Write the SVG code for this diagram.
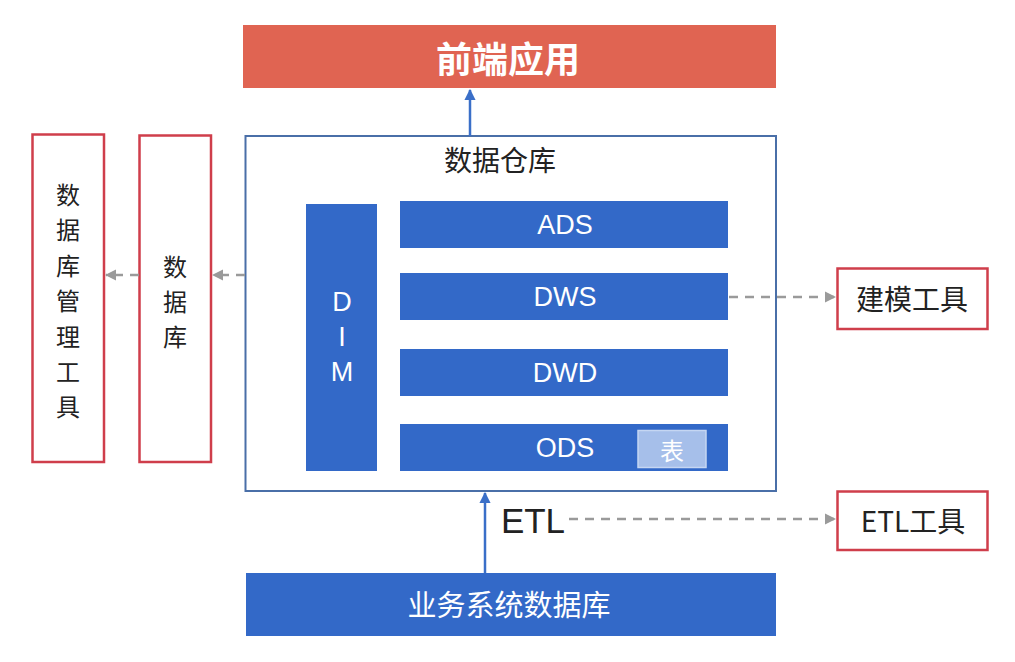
<svg xmlns="http://www.w3.org/2000/svg" width="1015" height="662" viewBox="0 0 1015 662">
<defs>
<style>
.cjk{font-family:"Noto Sans CJK SC","Liberation Sans",sans-serif;}
.lat{font-family:"Liberation Sans","Noto Sans CJK SC",sans-serif;}
.blue{fill:#3369c8;}
.wt{fill:#ffffff;text-anchor:middle;dominant-baseline:central;}
.bk{fill:#222222;text-anchor:middle;dominant-baseline:central;}
.red{fill:#ffffff;stroke:#cf3e4b;stroke-width:2.5;}
.dash{stroke:#9a9a9a;stroke-width:2.5;stroke-dasharray:9 7;fill:none;}
.solid{stroke:#3a6fc8;stroke-width:2.5;fill:none;}
.vt{font-size:24px;}
</style>
<marker id="ag" viewBox="0 0 10 10" refX="9" refY="5" markerWidth="4.5" markerHeight="4.5" orient="auto"><path d="M0,0 L10,5 L0,10 z" fill="#9a9a9a"/></marker>
<marker id="ab" viewBox="0 0 10 10" refX="9" refY="5" markerWidth="4.5" markerHeight="4.5" orient="auto"><path d="M0,0 L10,5 L0,10 z" fill="#3a6fc8"/></marker>
</defs>
<rect width="1015" height="662" fill="#ffffff"/>

<g id="frontend">
<rect x="243" y="25" width="533" height="63" fill="#e06452"/>
<text x="508" y="57" class="cjk wt" font-size="36" font-weight="bold">前端应用</text>
</g>

<g id="warehouse">
<rect x="245.5" y="136" width="530.5" height="355" fill="#ffffff" stroke="#4a6fa8" stroke-width="2"/>
<text x="500" y="159" class="cjk bk" font-size="28">数据仓库</text>
</g>

<g id="dim">
<rect x="306" y="204" width="71" height="267" class="blue"/>
<text x="342" y="302" class="lat wt" font-size="27">D</text>
<text x="342" y="337" class="lat wt" font-size="27">I</text>
<text x="342" y="372" class="lat wt" font-size="27">M</text>
</g>
<g id="ads">
<rect x="400" y="201" width="328" height="47" class="blue"/>
<text x="565" y="225" class="lat wt" font-size="27">ADS</text>
</g>
<g id="dws">
<rect x="400" y="273" width="328" height="47" class="blue"/>
<text x="565" y="297" class="lat wt" font-size="27">DWS</text>
</g>
<g id="dwd">
<rect x="400" y="349" width="328" height="47" class="blue"/>
<text x="565" y="373" class="lat wt" font-size="27">DWD</text>
</g>
<g id="ods">
<rect x="400" y="424" width="328" height="47" class="blue"/>
<text x="565" y="448" class="lat wt" font-size="27">ODS</text>
</g>
<g id="table">
<rect x="638" y="430.5" width="68" height="37" fill="#a6bfea" stroke="#c5d6f2" stroke-width="1.5"/>
<text x="672" y="449" class="cjk wt" font-size="24">表</text>
</g>

<g id="dbtool">
<rect x="32.5" y="134.5" width="71.5" height="327.5" class="red"/>
<text x="68" y="193" class="cjk bk vt">数</text>
<text x="68" y="228" class="cjk bk vt">据</text>
<text x="68" y="264" class="cjk bk vt">库</text>
<text x="68" y="299" class="cjk bk vt">管</text>
<text x="68" y="335" class="cjk bk vt">理</text>
<text x="68" y="370" class="cjk bk vt">工</text>
<text x="68" y="405" class="cjk bk vt">具</text>
</g>

<g id="db">
<rect x="139.5" y="135.5" width="71.5" height="326.5" class="red"/>
<text x="175" y="265" class="cjk bk vt">数</text>
<text x="175" y="300" class="cjk bk vt">据</text>
<text x="175" y="335" class="cjk bk vt">库</text>
</g>

<g id="modeltool">
<rect x="837.5" y="268.5" width="150" height="60.5" class="red"/>
<text x="912" y="298" class="cjk bk" font-size="28">建模工具</text>
</g>

<g id="etltool">
<rect x="837.5" y="491.5" width="150" height="58.5" class="red"/>
<text x="913" y="520" class="cjk bk" font-size="28">ETL工具</text>
</g>

<g id="bizdb">
<rect x="246" y="573" width="530" height="63" class="blue"/>
<text x="509" y="603" class="cjk wt" font-size="29">业务系统数据库</text>
</g>

<g id="etl-label">
<text x="533" y="520" class="lat bk" font-size="35" fill="#111111">ETL</text>
</g>

<g id="connectors">
<line x1="470" y1="136" x2="470" y2="90" class="solid" marker-end="url(#ab)"/>
<line x1="485" y1="573" x2="485" y2="493" class="solid" marker-end="url(#ab)"/>
<line x1="245" y1="275" x2="213" y2="275" class="dash" marker-end="url(#ag)"/>
<line x1="139" y1="275" x2="106" y2="275" class="dash" marker-end="url(#ag)"/>
<line x1="729" y1="297" x2="835" y2="297" class="dash" marker-end="url(#ag)"/>
<line x1="569" y1="519" x2="835" y2="519" class="dash" marker-end="url(#ag)"/>
</g>
</svg>
